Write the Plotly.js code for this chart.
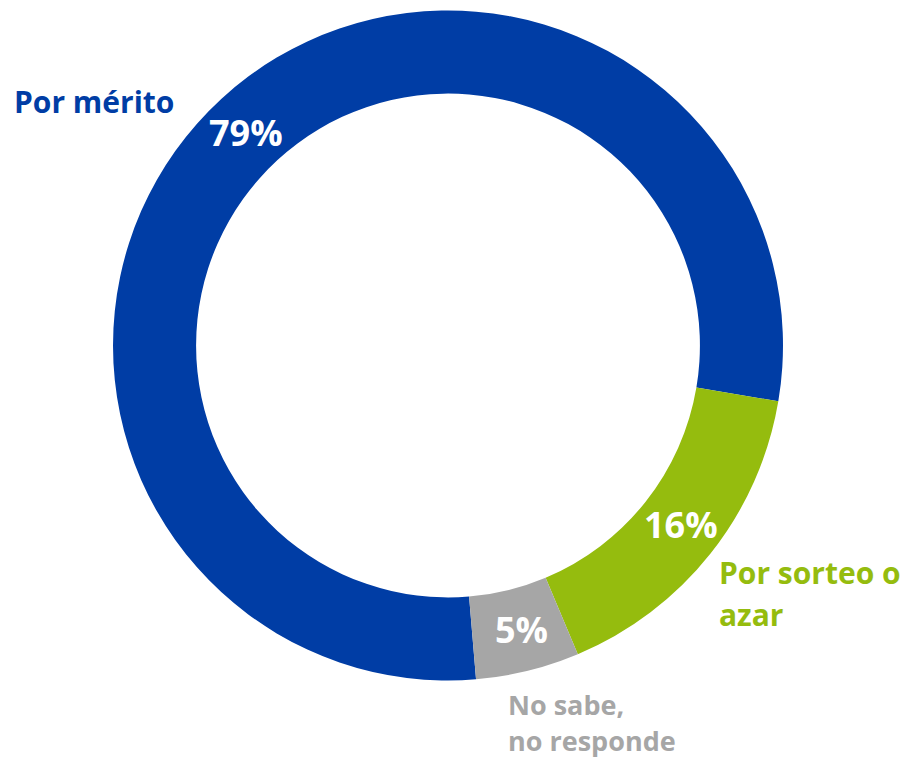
<!DOCTYPE html>
<html>
<head>
<meta charset="utf-8">
<script src="https://cdn.plot.ly/plotly-3.0.1.min.js"></script>
<style>html,body{margin:0;padding:0;background:#fff;}#chart{width:915px;height:758px;}</style>
</head>
<body>
<div id="chart"></div>
<script>
const categories = ["Por mérito", "Por sorteo o azar", "No sabe, no responde"];
const values = [79, 16, 5];
const colors = ["#003DA5", "#95BC0E", "#A6A6A6"];

const W = 915, H = 758;
const cx = 448, cy = 345.5, R = 335;
const hole = 0.752;
const rotation = 175.2;
const px = x => x / W;
const py = y => 1 - y / H;

const font = "'Open Sans', 'DejaVu Sans', sans-serif";

const trace = {
  type: "pie",
  labels: categories,
  values: values,
  sort: false,
  direction: "clockwise",
  rotation: rotation,
  hole: hole,
  marker: { colors: colors, line: { width: 0 } },
  textinfo: "none",
  hoverinfo: "none",
  domain: { x: [px(cx - R), px(cx + R)], y: [py(cy + R), py(cy - R)] }
};

// percentage labels placed at each slice's mid-angle, mid-ring radius
const total = values.reduce((a, b) => a + b, 0);
const rMid = R * (1 + hole) / 2;
let acc = 0;
const pctAnn = values.map(v => {
  const mid = (rotation - 0.8 + (acc + v / 2) / total * 360) * Math.PI / 180;
  acc += v;
  return {
    text: Math.round(v / total * 100) + "%",
    x: px(cx + rMid * Math.sin(mid)), y: py(cy - rMid * Math.cos(mid)),
    xref: "paper", yref: "paper", xanchor: "center", yanchor: "middle",
    showarrow: false,
    font: { family: font, size: 36, color: "#FFFFFF", weight: 700 }
  };
});

function lab(text, x, y, color, size) {
  return { text: text, x: px(x), y: py(y), xref: "paper", yref: "paper",
    xanchor: "left", yanchor: "middle", showarrow: false,
    font: { family: font, size: size, color: color, weight: 700 } };
}

const layout = {
  width: W, height: H,
  margin: { l: 0, r: 0, t: 0, b: 0 },
  paper_bgcolor: "#FFFFFF",
  showlegend: false,
  annotations: pctAnn.concat([
    lab("Por mérito", 12, 101, colors[0], 30),
    lab("Por sorteo o", 717, 572, colors[1], 30),
    lab("azar", 717, 614, colors[1], 30),
    lab("No sabe,", 506, 704, colors[2], 27),
    lab("no responde", 506, 740, colors[2], 27)
  ])
};

Plotly.newPlot("chart", [trace], layout, { displayModeBar: false, staticPlot: true });
</script>
</body>
</html>
